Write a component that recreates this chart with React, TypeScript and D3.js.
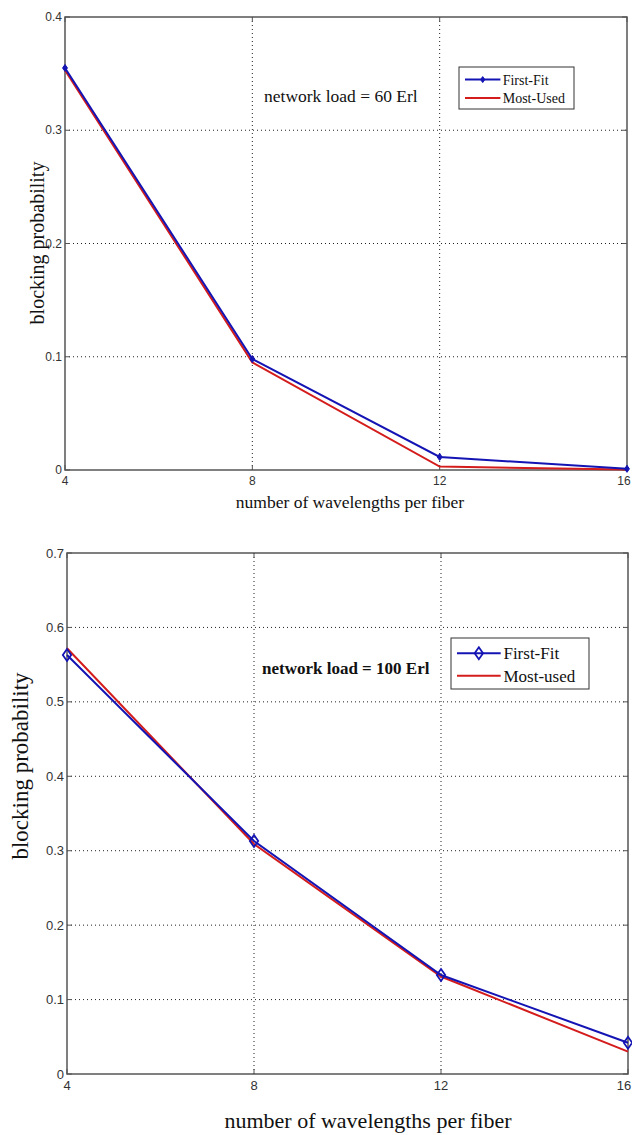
import React from 'react';
import * as d3 from 'd3';

// x categories shared by both panels
const wavelengths = [4, 8, 12, 16];

// panel 1: network load = 60 Erl
const ff60 = [0.355, 0.098, 0.0115, 0.001];
const mu60 = [0.353, 0.095, 0.003, 0.0005];
const yTicks60 = [0, 0.1, 0.2, 0.3, 0.4];

// panel 2: network load = 100 Erl
const ff100 = [0.563, 0.313, 0.133, 0.042];
const mu100 = [0.572, 0.309, 0.131, 0.03];
const yTicks100 = [0, 0.1, 0.2, 0.3, 0.4, 0.5, 0.6, 0.7];

const BLUE = '#1414b4';
const RED = '#d41c1c';
const SERIF = '"Liberation Serif", "Times New Roman", serif';
const SANS = '"Liberation Sans", Arial, sans-serif';
const PAGE_W = 632;

type PanelProps = {
    top: number;
    left: number;
    right: number;
    bottom: number;
    yMax: number;
    yTicks: number[];
    firstFit: number[];
    mostUsed: number[];
    note: string;
    noteBold: boolean;
    noteX: number;
    noteY: number;
    noteSize: number;
    legend: { x: number; y: number; w: number; h: number; size: number; labels: string[] };
    openMarker: boolean;
    tickSize: number;
    yLabelX: number;
    yLabelY: number;
    yLabelSize: number;
    xLabelX: number;
    xLabelY: number;
    xLabelSize: number;
};

function Panel(p: PanelProps) {
    const xScale = d3.scaleLinear().domain([4, 16]).range([p.left, p.right]);
    const yScale = d3.scaleLinear().domain([0, p.yMax]).range([p.bottom, p.top]);

    const line = d3.line<number>()
        .x((_, i) => xScale(wavelengths[i]))
        .y(d => yScale(d));

    const fmt = (t: number) => (t === 0 ? '0' : d3.format('.1f')(t));

    const L = p.legend;
    const rowY = [L.y + L.h * 0.3, L.y + L.h * 0.74];

    const diamond = (cx: number, cy: number, r: number) =>
        `M${cx},${cy - r}L${cx + r * 0.7},${cy}L${cx},${cy + r}L${cx - r * 0.7},${cy}Z`;

    return (
        <g>
            {/* grid */}
            {p.yTicks.filter(t => t > 0 && t < p.yMax).map(t => (
                <line key={'gy' + t} x1={p.left} x2={p.right} y1={yScale(t)} y2={yScale(t)}
                    stroke="#222" strokeWidth={1} strokeDasharray="1,3" />
            ))}
            {wavelengths.filter(w => w > 4 && w < 16).map(w => (
                <line key={'gx' + w} x1={xScale(w)} x2={xScale(w)} y1={p.top} y2={p.bottom}
                    stroke="#222" strokeWidth={1} strokeDasharray="1,3" />
            ))}

            {/* box */}
            <rect x={p.left} y={p.top} width={p.right - p.left} height={p.bottom - p.top}
                fill="none" stroke="#555" strokeWidth={1.5} />

            {/* ticks */}
            {p.yTicks.map(t => (
                <g key={'ty' + t}>
                    <line x1={p.left} x2={p.left + 5} y1={yScale(t)} y2={yScale(t)} stroke="#555" />
                    <line x1={p.right} x2={p.right - 5} y1={yScale(t)} y2={yScale(t)} stroke="#555" />
                    <text x={p.left - 3} y={yScale(t)} dy="0.35em" textAnchor="end"
                        fontFamily={SANS} fontSize={p.tickSize} fill="#333">{fmt(t)}</text>
                </g>
            ))}
            {wavelengths.map(w => (
                <g key={'tx' + w}>
                    <line x1={xScale(w)} x2={xScale(w)} y1={p.bottom} y2={p.bottom - 5} stroke="#555" />
                    <line x1={xScale(w)} x2={xScale(w)} y1={p.top} y2={p.top + 5} stroke="#555" />
                    <text x={Math.min(xScale(w), PAGE_W - 8)} y={p.bottom + p.tickSize + 3} textAnchor="middle"
                        fontFamily={SANS} fontSize={p.tickSize} fill="#333">{w}</text>
                </g>
            ))}

            {/* axis titles */}
            <text x={p.xLabelX} y={p.xLabelY} textAnchor="middle" fontFamily={SERIF}
                fontSize={p.xLabelSize} fill="#111">number of wavelengths per fiber</text>
            <text transform={`translate(${p.yLabelX},${p.yLabelY}) rotate(-90)`} textAnchor="middle"
                fontFamily={SERIF} fontSize={p.yLabelSize} fill="#111">blocking probability</text>

            {/* series */}
            <path d={line(p.mostUsed) || ''} fill="none" stroke={RED} strokeWidth={2} />
            <path d={line(p.firstFit) || ''} fill="none" stroke={BLUE} strokeWidth={2} />
            {p.firstFit.map((v, i) => (
                p.openMarker
                    ? <path key={'m' + i} d={diamond(xScale(wavelengths[i]), yScale(v), 6)}
                        fill="none" stroke={BLUE} strokeWidth={1.8} />
                    : <path key={'m' + i} d={diamond(xScale(wavelengths[i]), yScale(v), 3.5)}
                        fill={BLUE} stroke={BLUE} strokeWidth={1} />
            ))}

            {/* annotation */}
            <text x={p.noteX} y={p.noteY} fontFamily={SERIF} fontSize={p.noteSize}
                fontWeight={p.noteBold ? 'bold' : 'normal'} fill="#111">{p.note}</text>

            {/* legend */}
            <rect x={L.x} y={L.y} width={L.w} height={L.h} fill="#fff" stroke="#333" strokeWidth={1} />
            <line x1={L.x + 6} x2={L.x + L.w * 0.36} y1={rowY[0]} y2={rowY[0]} stroke={BLUE} strokeWidth={2} />
            {p.openMarker
                ? <path d={diamond(L.x + 6 + (L.w * 0.36 - 6) / 2, rowY[0], 6)} fill="none" stroke={BLUE} strokeWidth={1.8} />
                : <path d={diamond(L.x + 6 + (L.w * 0.36 - 6) / 2, rowY[0], 3)} fill={BLUE} stroke={BLUE} />}
            <line x1={L.x + 6} x2={L.x + L.w * 0.36} y1={rowY[1]} y2={rowY[1]} stroke={RED} strokeWidth={2} />
            {L.labels.map((lab, i) => (
                <text key={lab} x={L.x + L.w * 0.38} y={rowY[i]} dy="0.35em" fontFamily={SERIF}
                    fontSize={L.size} fill="#111">{lab}</text>
            ))}
        </g>
    );
}

export default function App() {
    return (
        <svg width={PAGE_W} height={1135} style={{ position: 'absolute', left: 0, top: 0, background: '#fff' }}>
            <Panel
                top={17} left={65} right={627} bottom={470}
                yMax={0.4} yTicks={yTicks60}
                firstFit={ff60} mostUsed={mu60}
                note="network load = 60 Erl" noteBold={false} noteX={264} noteY={102} noteSize={17.5}
                legend={{ x: 459, y: 67, w: 115, h: 42, size: 14, labels: ['First-Fit', 'Most-Used'] }}
                openMarker={false} tickSize={12}
                yLabelX={44} yLabelY={243} yLabelSize={20}
                xLabelX={350} xLabelY={508} xLabelSize={17.5}
            />
            <Panel
                top={553} left={67} right={628} bottom={1074}
                yMax={0.7} yTicks={yTicks100}
                firstFit={ff100} mostUsed={mu100}
                note="network load = 100 Erl" noteBold={true} noteX={262} noteY={674} noteSize={17}
                legend={{ x: 451, y: 638, w: 138, h: 51, size: 17, labels: ['First-Fit', 'Most-used'] }}
                openMarker={true} tickSize={13}
                yLabelX={28} yLabelY={766} yLabelSize={23}
                xLabelX={368} xLabelY={1128} xLabelSize={22}
            />
        </svg>
    );
}
